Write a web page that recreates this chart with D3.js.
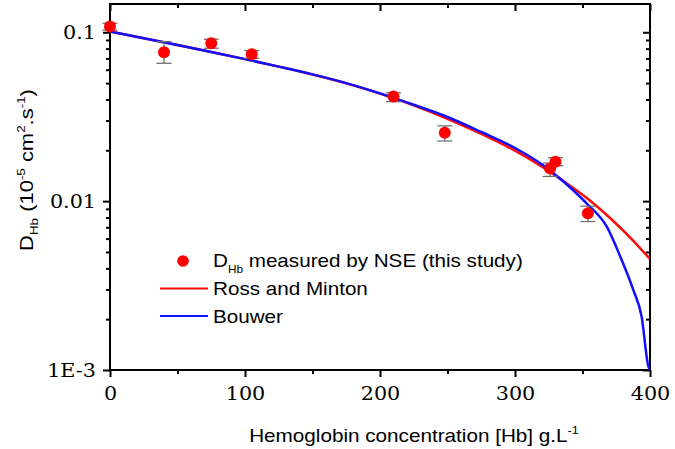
<!DOCTYPE html>
<html><head><meta charset="utf-8">
<script src="https://cdn.jsdelivr.net/npm/d3@7/dist/d3.min.js"></script>
<style>
html,body{margin:0;padding:0;background:#fff;}
svg{display:block;}
</style></head>
<body>
<svg id="chart" width="675" height="449"></svg>
<script>
// Measured points (NSE)
const pointX = [0, 40, 75, 105, 210, 248, 326, 330, 354];
const pointY = [0.108, 0.0762, 0.086, 0.0741, 0.0416, 0.0254, 0.0156, 0.0171, 0.00847];
const errLow = [0.103, 0.0655, 0.0804, 0.0701, 0.0388, 0.0227, 0.0140, 0.0162, 0.00757];
const errHigh = [0.113, 0.088, 0.0909, 0.0778, 0.0438, 0.0279, 0.0168, 0.0181, 0.00934];

// Model curves
const rossX = [0, 25, 50, 75, 100, 125, 150, 175, 200, 225, 250, 275, 300, 320, 340, 355, 370, 385, 400];
const rossMinton = [0.1010, 0.0922, 0.0840, 0.0764, 0.0693, 0.0626, 0.0562, 0.0498, 0.0433, 0.0369, 0.0307, 0.0250, 0.0199, 0.0160, 0.01246, 0.01016, 0.00800, 0.00613, 0.00454];
const bouwerX = [0, 25, 50, 75, 100, 125, 150, 175, 200, 225, 250, 275, 300, 320, 333, 340, 353, 368, 378, 387.6, 393.8, 398.8, 400];
const bouwer = [0.1010, 0.0922, 0.0840, 0.0764, 0.0693, 0.0626, 0.0563, 0.0500, 0.04345, 0.03719, 0.03150, 0.02567, 0.02064, 0.01648, 0.01365, 0.01221, 0.00971, 0.00706, 0.00469, 0.00298, 0.00207, 0.00105, 0.0010];

const xTicks = [0, 100, 200, 300, 400];
const xMinor = [50, 150, 250, 350];
const yTicks = [0.1, 0.01, 0.001];
const yTickLabels = ["0.1", "0.01", "1E-3"];
const yMinor = [0.09,0.08,0.07,0.06,0.05,0.04,0.03,0.02,0.009,0.008,0.007,0.006,0.005,0.004,0.003,0.002];

const svg = d3.select("#chart");
const L = 110, R = 650, T = 4, B = 370;
const x = d3.scaleLinear().domain([0, 400]).range([L, R]);
const y = d3.scaleLog().domain([0.001, 0.147]).range([B, T]);

const tickFont = "'DejaVu Serif', serif";
const sans = "'Liberation Sans', Arial, sans-serif";
const tsx = 1.12; // horizontal stretch of tick labels
const lsx = 1.18; // horizontal stretch of sans text

svg.append("defs").append("clipPath").attr("id","clip")
  .append("rect").attr("x",L).attr("y",T).attr("width",R-L).attr("height",B-T);

const gBottom = svg.append("g").attr("transform",`translate(0,${B})`)
  .call(d3.axisBottom(x).tickValues(xTicks).tickSize(7).tickFormat(d3.format("d")));
gBottom.append("g").call(d3.axisBottom(x).tickValues(xMinor).tickSize(4).tickFormat(""));
const gTop = svg.append("g").attr("transform",`translate(0,${T})`)
  .call(d3.axisBottom(x).tickValues(xTicks).tickSize(7).tickFormat(""));
gTop.append("g").call(d3.axisBottom(x).tickValues(xMinor).tickSize(4).tickFormat(""));
const gLeft = svg.append("g").attr("transform",`translate(${L},0)`)
  .call(d3.axisLeft(y).tickValues(yTicks).tickSize(7).tickFormat((d,i)=>yTickLabels[i]));
gLeft.append("g").call(d3.axisLeft(y).tickValues(yMinor).tickSize(4).tickFormat(""));
const gRight = svg.append("g").attr("transform",`translate(${R},0)`)
  .call(d3.axisLeft(y).tickValues(yTicks).tickSize(7).tickFormat(""));
gRight.append("g").call(d3.axisLeft(y).tickValues(yMinor).tickSize(4).tickFormat(""));

svg.selectAll(".domain").remove();
svg.selectAll(".tick line").attr("stroke","#000").attr("stroke-width",2);
gBottom.selectAll(".tick text").attr("font-family",tickFont).attr("font-size",18.5).attr("fill","#000")
  .attr("y",30).attr("dy","0").attr("transform",`scale(${tsx},1)`);
gLeft.selectAll(".tick text").attr("font-family",tickFont).attr("font-size",18.5).attr("fill","#000")
  .attr("x",-14/tsx).attr("dy","0.36em").attr("transform",`scale(${tsx},1)`);

svg.append("rect").attr("x",L).attr("y",T).attr("width",R-L).attr("height",B-T)
  .attr("fill","none").attr("stroke","#000").attr("stroke-width",2);

const g = svg.append("g").attr("clip-path","url(#clip)");
const line = d3.line().x(d=>x(d[0])).y(d=>y(d[1])).curve(d3.curveMonotoneX);
g.append("path").datum(rossX.map((v,i)=>[v,rossMinton[i]]))
  .attr("d",line).attr("fill","none").attr("stroke","#ff0a0a").attr("stroke-width",2.5);
g.append("path").datum(bouwerX.map((v,i)=>[v,bouwer[i]]))
  .attr("d",line).attr("fill","none").attr("stroke","#1010ff").attr("stroke-width",2.5);

const eb = svg.append("g").attr("stroke","#707070").attr("stroke-width",1.3);
pointX.forEach((px,i)=>{
  eb.append("line").attr("x1",x(px)).attr("x2",x(px)).attr("y1",y(errLow[i])).attr("y2",y(errHigh[i]));
  [errLow[i],errHigh[i]].forEach(v=>{
    eb.append("line").attr("x1",x(px)-7.5).attr("x2",x(px)+7.5).attr("y1",y(v)).attr("y2",y(v));
  });
});
svg.append("g").selectAll("circle").data(pointX).join("circle")
  .attr("cx",d=>x(d)).attr("cy",(d,i)=>y(pointY[i])).attr("r",6).attr("fill","#ff0000");

// legend
const lg = svg.append("g").attr("font-family",sans).attr("font-size",17.5).attr("fill","#000");
lg.append("circle").attr("cx",183).attr("cy",261).attr("r",5.8).attr("fill","#ff0000");
const t1 = lg.append("g").attr("transform",`translate(213,267) scale(${lsx},1)`).append("text");
t1.append("tspan").text("D");
t1.append("tspan").attr("font-size",10).attr("dy",6).text("Hb");
t1.append("tspan").attr("dy",-6).text(" measured by NSE (this study)");
lg.append("line").attr("x1",160).attr("x2",208).attr("y1",288.5).attr("y2",288.5).attr("stroke","#ff0a0a").attr("stroke-width",2);
lg.append("g").attr("transform",`translate(213,295) scale(${lsx},1)`).append("text").text("Ross and Minton");
lg.append("line").attr("x1",160).attr("x2",208).attr("y1",316).attr("y2",316).attr("stroke","#1010ff").attr("stroke-width",2);
lg.append("g").attr("transform",`translate(213,323) scale(${lsx},1)`).append("text").text("Bouwer");

// x label
const xl = svg.append("g").attr("transform",`translate(414,442) scale(1.15,1)`).append("text")
  .attr("text-anchor","middle").attr("font-family",sans).attr("font-size",18).attr("fill","#000");
xl.append("tspan").text("Hemoglobin concentration [Hb] g.L");
xl.append("tspan").attr("font-size",11).attr("dy",-8).text("-1");

// y label
const yl = svg.append("g").attr("transform","translate(33,170) rotate(-90) scale(1.22,1)").append("text")
  .attr("text-anchor","middle").attr("font-family",sans).attr("font-size",18).attr("fill","#000");
yl.append("tspan").text("D");
yl.append("tspan").attr("font-size",11).attr("dy",5).text("Hb");
yl.append("tspan").attr("dy",-5).text(" (10");
yl.append("tspan").attr("font-size",11).attr("dy",-8).text("-5");
yl.append("tspan").attr("dy",8).text(" cm");
yl.append("tspan").attr("font-size",11).attr("dy",-8).text("2");
yl.append("tspan").attr("dy",8).text(".s");
yl.append("tspan").attr("font-size",11).attr("dy",-8).text("-1");
yl.append("tspan").attr("dy",8).text(")");
</script>
</body></html>
